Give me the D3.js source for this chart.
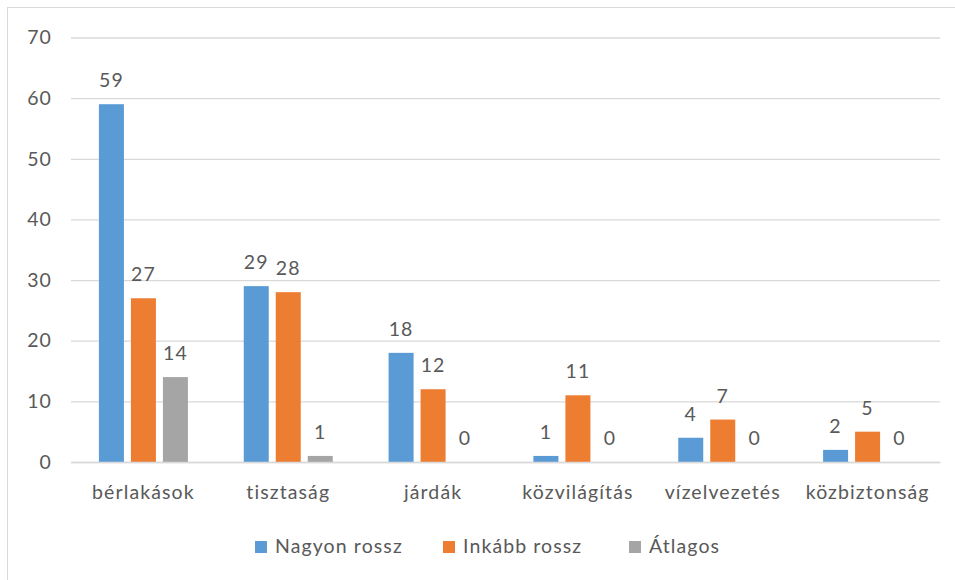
<!DOCTYPE html>
<html><head><meta charset="utf-8">
<script src="https://cdn.jsdelivr.net/npm/d3@7"></script>
<style>body{margin:0;background:#fff;} svg{display:block;}</style>
</head><body>
<svg id="c" width="955" height="580"></svg>
<script>
const categories = ["bérlakások","tisztaság","járdák","közvilágítás","vízelvezetés","közbiztonság"];
const seriesNames = ["Nagyon rossz","Inkább rossz","Átlagos"];
const nagyonRossz = [59,29,18,1,4,2];
const inkabbRossz = [27,28,12,11,7,5];
const atlagos = [14,1,0,0,0,0];
const yTicks = [0,10,20,30,40,50,60,70];
const colors = ["#5b9bd5","#ed7d31","#a5a5a5"];
const seriesValues = [nagyonRossz, inkabbRossz, atlagos];

const svg = d3.select("#c");
const font = "Lato, 'Open Sans', sans-serif";
const fs = "19.5px";
const ls = "1.1px";
const txt = "#595959";

svg.append("rect").attr("x",7.5).attr("y",7.5).attr("width",960).attr("height",590)
  .attr("fill","#fff").attr("stroke","#d9d9d9");

const pLeft = 71, pRight = 940, pTop = 37.5, pBottom = 462;
const x0 = d3.scaleBand().domain(categories).range([pLeft,pRight]).padding(0);
const y = d3.scaleLinear().domain([0,70]).range([pBottom,pTop]);
const groupW = 96;
const x1 = d3.scaleBand().domain(seriesNames).range([0,groupW]).paddingInner(7/32).paddingOuter(7/64);

function styleText(sel){
  sel.attr("fill",txt).style("font-family",font).style("font-size",fs).style("letter-spacing",ls);
}

// gridlines
const gy = svg.append("g").attr("transform",`translate(${pLeft},0)`)
  .call(d3.axisLeft(y).tickValues(yTicks).tickSize(-(pRight-pLeft)).tickFormat(d3.format("d")).tickPadding(19));
gy.select(".domain").remove();
gy.selectAll(".tick line").attr("stroke","#d9d9d9").attr("stroke-width",1.3);
styleText(gy.selectAll(".tick text"));

// bars
const data = [];
categories.forEach((c,i)=>seriesNames.forEach((s,j)=>data.push({c,s,j,v:seriesValues[j][i]})));
const gb = svg.append("g");
gb.selectAll("rect").data(data).enter().append("rect")
  .attr("x",d=>x0(d.c)+x0.bandwidth()/2-groupW/2+x1(d.s))
  .attr("width",x1.bandwidth())
  .attr("y",d=>y(d.v))
  .attr("height",d=>pBottom-y(d.v))
  .attr("fill",d=>colors[d.j]);
styleText(gb.selectAll("text").data(data).enter().append("text")
  .attr("x",d=>x0(d.c)+x0.bandwidth()/2-groupW/2+x1(d.s)+x1.bandwidth()/2)
  .attr("y",d=>y(d.v)-17)
  .attr("text-anchor","middle")
  .text(d=>d.v));

// x axis
const gx = svg.append("g").attr("transform",`translate(0,${pBottom})`)
  .call(d3.axisBottom(x0).tickSize(0).tickPadding(23));
gx.select(".domain").attr("stroke","#d9d9d9").attr("stroke-width",1.3);
styleText(gx.selectAll(".tick text"));

// legend
const legX = [255,443,629];
const lg = svg.append("g");
seriesNames.forEach((s,j)=>{
  lg.append("rect").attr("x",legX[j]).attr("y",541).attr("width",12).attr("height",12).attr("fill",colors[j]);
  styleText(lg.append("text").attr("x",legX[j]+20).attr("y",553).text(s));
});
</script>
</body></html>
